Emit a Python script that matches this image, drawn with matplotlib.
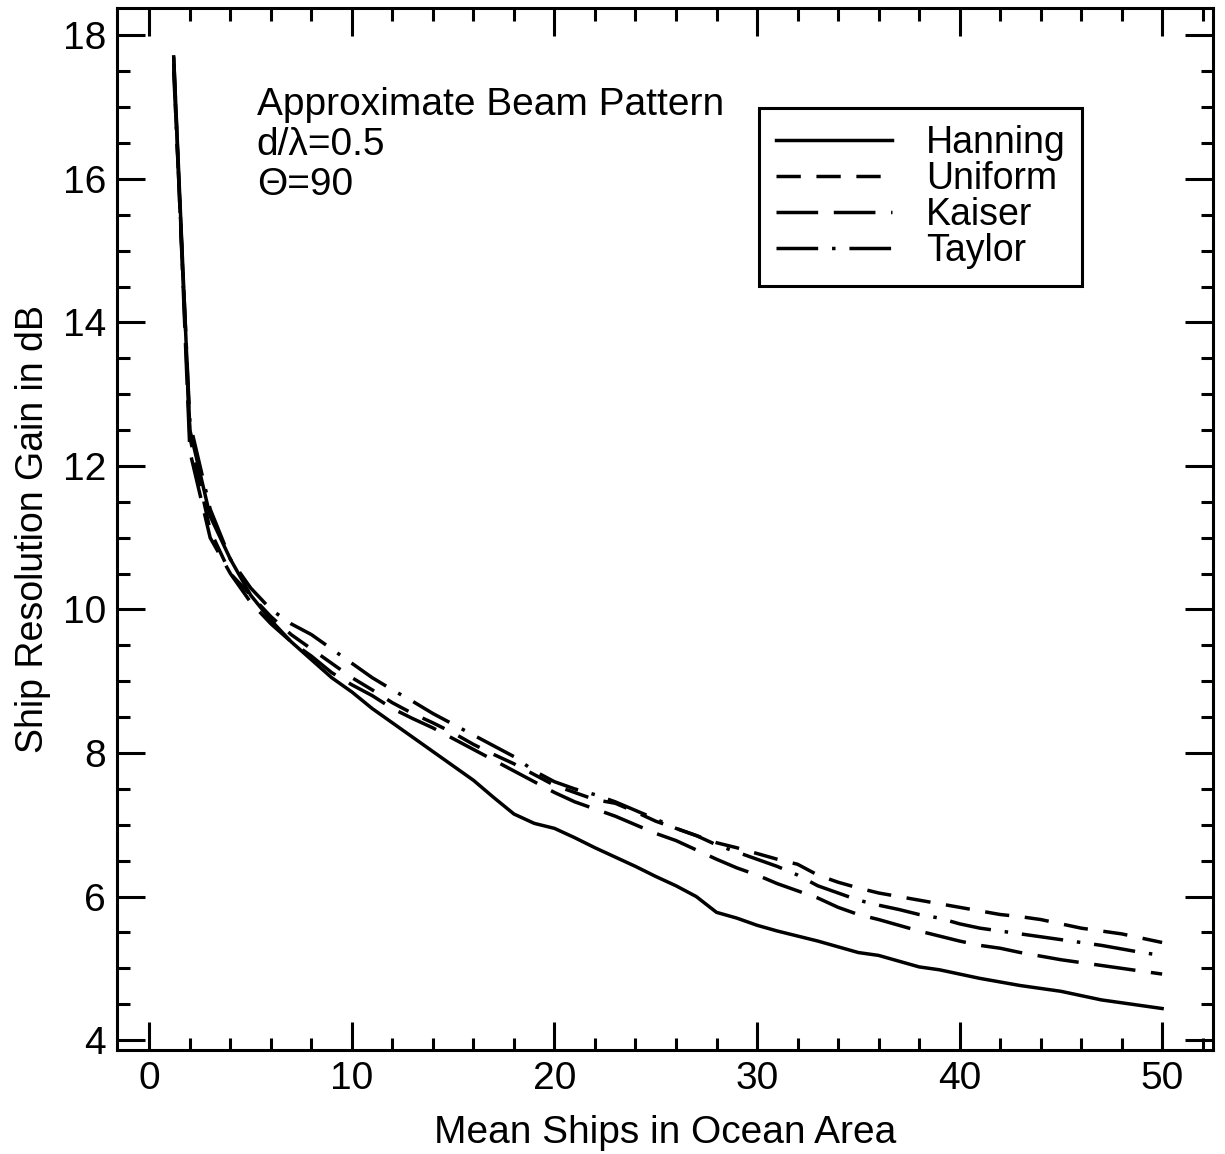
import matplotlib.pyplot as plt
import numpy as np
from matplotlib.ticker import MultipleLocator

plt.rcParams['font.family'] = ['Liberation Sans', 'DejaVu Sans']

ships = [1.2] + list(range(2, 51))

hanning = [17.7, 12.5, 11.3, 10.7, 10.2, 9.85, 9.55, 9.3, 9.05, 8.85,
           8.62, 8.42, 8.22, 8.02, 7.82, 7.62, 7.38, 7.15, 7.02, 6.95,
           6.82, 6.68, 6.55, 6.42, 6.28, 6.15, 6.0, 5.78, 5.7, 5.6,
           5.52, 5.45, 5.38, 5.3, 5.22, 5.18, 5.1, 5.02, 4.98, 4.92,
           4.86, 4.81, 4.76, 4.72, 4.68, 4.62, 4.56, 4.52, 4.48, 4.44]

uniform = [17.6, 12.4, 11.1, 10.5, 10.2, 9.9, 9.65, 9.45, 9.25, 9.05,
           8.88, 8.7, 8.55, 8.42, 8.28, 8.12, 7.98, 7.85, 7.7, 7.55,
           7.45, 7.35, 7.3, 7.18, 7.05, 6.95, 6.85, 6.75, 6.68, 6.6,
           6.52, 6.45, 6.3, 6.2, 6.12, 6.05, 6.0, 5.95, 5.9, 5.85,
           5.8, 5.75, 5.72, 5.68, 5.62, 5.56, 5.52, 5.48, 5.42, 5.36]

kaiser = [17.7, 12.2, 11.0, 10.5, 10.1, 9.8, 9.55, 9.35, 9.12, 8.95,
          8.8, 8.62, 8.48, 8.35, 8.2, 8.05, 7.9, 7.75, 7.6, 7.45,
          7.32, 7.22, 7.12, 7.0, 6.88, 6.78, 6.65, 6.52, 6.4, 6.3,
          6.18, 6.08, 5.98, 5.85, 5.75, 5.68, 5.6, 5.52, 5.45, 5.38,
          5.32, 5.28, 5.22, 5.17, 5.12, 5.08, 5.04, 5.0, 4.96, 4.92]

taylor = [17.5, 12.6, 11.4, 10.7, 10.3, 10.0, 9.8, 9.65, 9.45, 9.25,
          9.05, 8.88, 8.72, 8.55, 8.4, 8.25, 8.1, 7.95, 7.75, 7.6,
          7.5, 7.42, 7.32, 7.2, 7.08, 6.95, 6.85, 6.72, 6.62, 6.52,
          6.42, 6.3, 6.15, 6.05, 5.95, 5.88, 5.82, 5.75, 5.7, 5.62,
          5.56, 5.52, 5.48, 5.44, 5.4, 5.36, 5.32, 5.27, 5.22, 5.18]

fig = plt.figure(figsize=(12.25, 11.54), dpi=100)
ax = fig.add_axes([0.0955, 0.090, 0.8945, 0.903])

lw = 2.5
ax.plot(ships, hanning, 'k', lw=lw, label='Hanning')
ax.plot(ships, uniform, 'k', lw=lw, dashes=(7, 4.5), label='Uniform')
ax.plot(ships, kaiser, 'k', lw=lw, dashes=(12, 4.5), label='Kaiser')
ax.plot(ships, taylor, 'k', lw=lw, dashes=(12, 4, 1, 4), label='Taylor')

ax.set_xlim(-1.6, 52.5)
ax.set_ylim(3.86, 18.38)
ax.xaxis.set_major_locator(MultipleLocator(10))
ax.xaxis.set_minor_locator(MultipleLocator(2))
ax.yaxis.set_major_locator(MultipleLocator(2))
ax.yaxis.set_minor_locator(MultipleLocator(0.5))
ax.tick_params(which='both', direction='in', top=True, right=True,
               width=2.2, labelsize=28, pad=8)
ax.tick_params(which='major', length=20)
ax.tick_params(which='minor', length=9)
for s in ax.spines.values():
    s.set_linewidth(2.2)

ax.set_xlabel('Mean Ships in Ocean Area', fontsize=28, labelpad=13)
ax.set_ylabel('Ship Resolution Gain in dB', fontsize=27, labelpad=8)

ax.text(5.3, 17.28, 'Approximate Beam Pattern\nd/\u03bb=0.5\n\u0398=90',
        fontsize=28, va='top', ha='left', linespacing=1.15)

leg = ax.legend(loc='upper right', bbox_to_anchor=(0.881, 0.904), fontsize=27,
                handlelength=3.1, handletextpad=0.9, labelspacing=0.0,
                frameon=True, fancybox=False, edgecolor='k', framealpha=1,
                borderpad=0.45, borderaxespad=0)
leg.get_frame().set_linewidth(2.2)

plt.savefig('out.png', dpi=100)
